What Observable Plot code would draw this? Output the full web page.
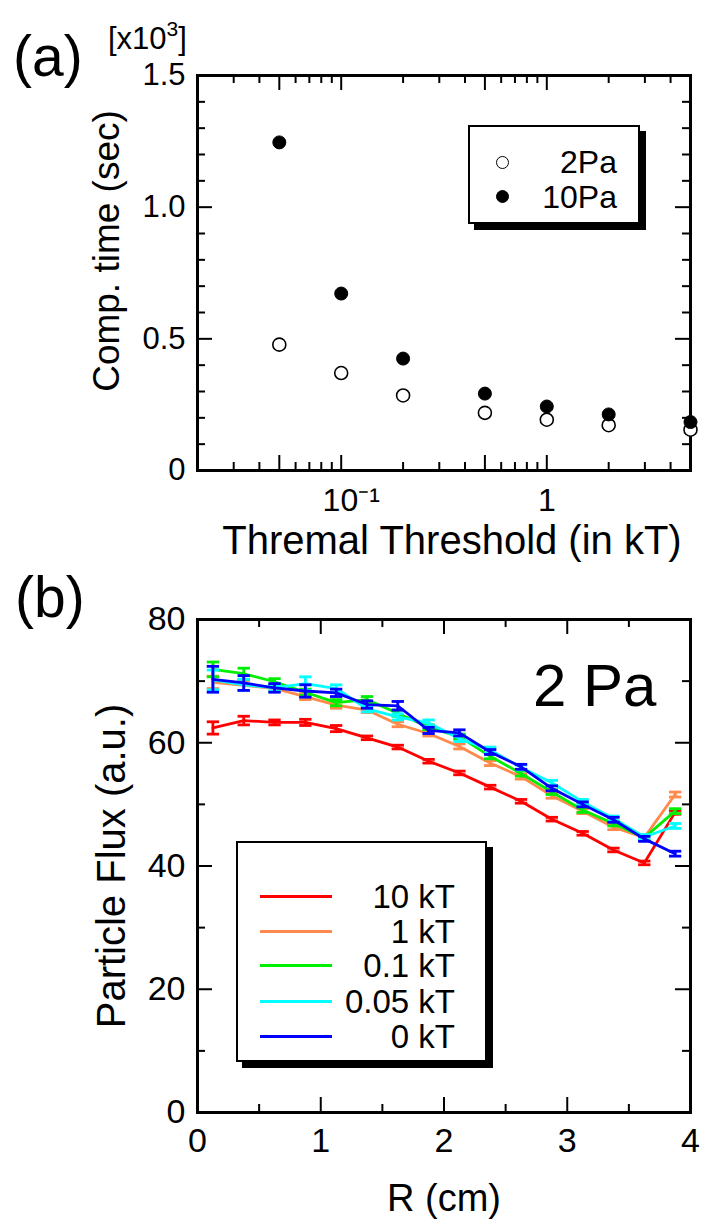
<!DOCTYPE html>
<html>
<head>
<meta charset="utf-8">
<script src="https://cdn.jsdelivr.net/npm/d3@7"></script>
<script src="https://cdn.jsdelivr.net/npm/@observablehq/plot@0.6"></script>
<style>
  body { margin: 0; background: #fff; }
  #root { position: relative; width: 701px; height: 1220px; overflow: hidden; background: #fff;
          font-family: "Liberation Sans", Arial, Helvetica, sans-serif; color: #000; }
  .abs { position: absolute; line-height: 1; white-space: nowrap; }
  #pa { position: absolute; left: 0; top: 0; }
  #pb { position: absolute; left: 0; top: 600px; }
  .legend { position: absolute; background: #fff; border: 2px solid #000; box-shadow: 6px 6px 0 #000; box-sizing: border-box; }
  .mk { position: absolute; width: 13px; height: 13px; border-radius: 50%; box-sizing: border-box; border: 1.6px solid #000; }
  .ln { position: absolute; height: 3px; width: 72px; left: 260px; }
</style>
</head>
<body>
<div id="root">
  <div id="pa"></div>
  <div id="pb"></div>
</div>
<script>
// ---------- Panel (a) data ----------
const thresholdsKT = [0.05, 0.1, 0.2, 0.5, 1, 2, 5];
const time2Pa  = [0.478, 0.370, 0.285, 0.219, 0.193, 0.172, 0.155];   // x10^3 sec
const time10Pa = [1.246, 0.672, 0.425, 0.292, 0.243, 0.213, 0.184];   // x10^3 sec
const aXTickLabelPow = [0.1];
const aXTickLabelOne = [1];
const aXMajorTicks = [0.05, 0.1, 0.5, 1];
const aXMinorTicks = [0.03, 0.04, 0.06, 0.07, 0.08, 0.09, 0.2, 0.3, 0.4, 0.6, 0.7, 0.8, 0.9, 2, 3, 4];
const aYTickLabels = [0, 0.5, 1.0, 1.5];
const aYMajorTicks = [0.5, 1.0];
const aYMinorTicks = [0.1, 0.2, 0.3, 0.4, 0.6, 0.7, 0.8, 0.9, 1.1, 1.2, 1.3, 1.4];

// ---------- Panel (b) data ----------
const radiusCm = [0.125, 0.375, 0.625, 0.875, 1.125, 1.375, 1.625, 1.875, 2.125, 2.375, 2.625, 2.875, 3.125, 3.375, 3.625, 3.875];
const seriesNames  = ["10 kT", "1 kT", "0.1 kT", "0.05 kT", "0 kT"];
const seriesColors = ["#ff0000", "#ff8a4c", "#00ee00", "#00ffff", "#0000ff"];
const flux10kT  = [62.4, 63.6, 63.3, 63.3, 62.3, 60.8, 59.3, 57.0, 55.1, 52.8, 50.5, 47.6, 45.3, 42.6, 40.5, 48.7];
const flux1kT   = [69.8, 69.3, 68.8, 67.5, 66.1, 65.3, 63.0, 61.5, 59.4, 56.7, 54.5, 51.4, 48.9, 46.3, 44.6, 51.6];
const flux01kT  = [71.9, 71.2, 69.9, 68.2, 66.5, 67.0, 64.8, 62.5, 61.0, 57.8, 55.0, 52.0, 49.1, 46.9, 44.6, 48.9];
const flux005kT = [70.2, 69.4, 68.9, 69.6, 68.8, 65.5, 64.2, 63.2, 60.7, 58.8, 56.0, 53.5, 50.4, 47.7, 44.7, 46.5];
const flux0kT   = [70.3, 69.7, 68.9, 68.4, 68.1, 66.2, 66.0, 62.0, 61.6, 58.5, 56.1, 52.6, 50.0, 47.5, 44.4, 42.0];
const err10kT  = [1.0, 0.7, 0.4, 0.5, 0.5, 0.3, 0.3, 0.3, 0.3, 0.3, 0.3, 0.3, 0.3, 0.3, 0.3, 0.3];
const err1kT   = [1.0, 0.8, 0.5, 0.5, 0.5, 0.4, 0.4, 0.4, 0.4, 0.4, 0.4, 0.4, 0.4, 0.4, 0.4, 0.4];
const err01kT  = [1.2, 0.9, 0.5, 0.5, 0.5, 0.5, 0.5, 0.4, 0.4, 0.4, 0.4, 0.4, 0.4, 0.4, 0.4, 0.4];
const err005kT = [1.6, 0.9, 0.5, 1.1, 0.6, 0.5, 0.5, 0.5, 0.5, 0.5, 0.4, 0.4, 0.4, 0.4, 0.4, 0.4];
const err0kT   = [2.1, 1.2, 0.7, 1.0, 0.6, 0.6, 0.7, 0.5, 0.5, 0.4, 0.4, 0.4, 0.4, 0.4, 0.4, 0.4];
const bXTickLabels = [0, 1, 2, 3, 4];
const bXMajorTicks = [1, 2, 3];
const bXMinorTicks = [0.5, 1.5, 2.5, 3.5];
const bYTickLabels = [0, 20, 40, 60, 80];
const bYMajorTicks = [20, 40, 60];
const bYMinorTicks = [10, 30, 50, 70];

const FONT = '"Liberation Sans", Arial, Helvetica, sans-serif';

// ---------- Panel (a) ----------
const aW = 493, aH = 395;
const rows2 = thresholdsKT.map((x, i) => ({x, y: time2Pa[i]}));
const rows10 = thresholdsKT.map((x, i) => ({x, y: time10Pa[i]}));
const plotA = Plot.plot({
  width: 701, height: 600,
  marginLeft: 197, marginRight: 11, marginTop: 75, marginBottom: 130,
  x: {type: "log", domain: [0.02, 5], label: null},
  y: {domain: [0, 1.5], label: null},
  style: {fontFamily: FONT, color: "#000", background: "transparent", overflow: "visible"},
  marks: [
    Plot.tickX(aXMajorTicks, {x: d => d, insetTop: aH - 15, stroke: "#000", strokeWidth: 2}),
    Plot.tickX(aXMajorTicks, {x: d => d, insetBottom: aH - 15, stroke: "#000", strokeWidth: 2}),
    Plot.tickX(aXMinorTicks, {x: d => d, insetTop: aH - 8, stroke: "#000", strokeWidth: 2}),
    Plot.tickX(aXMinorTicks, {x: d => d, insetBottom: aH - 8, stroke: "#000", strokeWidth: 2}),
    Plot.tickY(aYMajorTicks, {y: d => d, insetRight: aW - 15, stroke: "#000", strokeWidth: 2}),
    Plot.tickY(aYMajorTicks, {y: d => d, insetLeft: aW - 15, stroke: "#000", strokeWidth: 2}),
    Plot.tickY(aYMinorTicks, {y: d => d, insetRight: aW - 8, stroke: "#000", strokeWidth: 2}),
    Plot.tickY(aYMinorTicks, {y: d => d, insetLeft: aW - 8, stroke: "#000", strokeWidth: 2}),
    Plot.frame({stroke: "#000", strokeWidth: 3}),
    Plot.axisX({ticks: aXTickLabelPow, tickSize: 0, tickPadding: 18, fontSize: 32, label: null, dx: 10,
                tickFormat: () => "10\u207B\u00B9"}),
    Plot.axisX({ticks: aXTickLabelOne, tickSize: 0, tickPadding: 18, fontSize: 32, label: null,
                tickFormat: d => String(d)}),
    Plot.axisY({ticks: aYTickLabels, tickSize: 0, tickPadding: 12, fontSize: 31, label: null,
                tickFormat: d => d === 0 ? "0" : d.toFixed(1)}),
    Plot.text(["Thremal Threshold (in kT)"], {frameAnchor: "bottom", textAnchor: "middle", lineAnchor: "middle",
                dy: 71, dx: 8, fontSize: 40, fill: "#000"}),
    Plot.text(["Comp. time (sec)"], {frameAnchor: "left", textAnchor: "middle", lineAnchor: "middle",
                dx: -90, dy: -22, rotate: -90, fontSize: 37, fill: "#000"}),
    Plot.dot(rows2, {x: "x", y: "y", r: 6.5, fill: "#fff", stroke: "#000", strokeWidth: 1.6}),
    Plot.dot(rows10, {x: "x", y: "y", r: 6.5, fill: "#000", stroke: "#000", strokeWidth: 1})
  ]
});
document.getElementById("pa").appendChild(plotA);

// ---------- Panel (b) ----------
const bW = 493, bH = 493;
const fluxSeries = [flux10kT, flux1kT, flux01kT, flux005kT, flux0kT];
const errSeries = [err10kT, err1kT, err01kT, err005kT, err0kT];
const capHalf = 0.05;
const seriesMarks = [];
fluxSeries.forEach((vals, s) => {
  const rows = radiusCm.map((R, i) => ({R, v: vals[i], e: errSeries[s][i]}));
  const c = seriesColors[s];
  seriesMarks.push(
    Plot.ruleX(rows, {x: "R", y1: d => d.v - d.e, y2: d => d.v + d.e, stroke: c, strokeWidth: 2.8}),
    Plot.link(rows, {x1: d => d.R - capHalf, x2: d => d.R + capHalf, y1: d => d.v + d.e, y2: d => d.v + d.e, stroke: c, strokeWidth: 2.8}),
    Plot.link(rows, {x1: d => d.R - capHalf, x2: d => d.R + capHalf, y1: d => d.v - d.e, y2: d => d.v - d.e, stroke: c, strokeWidth: 2.8}),
    Plot.line(rows, {x: "R", y: "v", stroke: c, strokeWidth: 2.8})
  );
});
const plotB = Plot.plot({
  width: 701, height: 620,
  marginLeft: 197, marginRight: 11, marginTop: 19, marginBottom: 108,
  x: {domain: [0, 4], label: null},
  y: {domain: [0, 80], label: null},
  style: {fontFamily: FONT, color: "#000", background: "transparent", overflow: "visible"},
  marks: [
    Plot.tickX(bXMajorTicks, {x: d => d, insetTop: bH - 15, stroke: "#000", strokeWidth: 2}),
    Plot.tickX(bXMajorTicks, {x: d => d, insetBottom: bH - 15, stroke: "#000", strokeWidth: 2}),
    Plot.tickX(bXMinorTicks, {x: d => d, insetTop: bH - 8, stroke: "#000", strokeWidth: 2}),
    Plot.tickX(bXMinorTicks, {x: d => d, insetBottom: bH - 8, stroke: "#000", strokeWidth: 2}),
    Plot.tickY(bYMajorTicks, {y: d => d, insetRight: bW - 15, stroke: "#000", strokeWidth: 2}),
    Plot.tickY(bYMajorTicks, {y: d => d, insetLeft: bW - 15, stroke: "#000", strokeWidth: 2}),
    Plot.tickY(bYMinorTicks, {y: d => d, insetRight: bW - 8, stroke: "#000", strokeWidth: 2}),
    Plot.tickY(bYMinorTicks, {y: d => d, insetLeft: bW - 8, stroke: "#000", strokeWidth: 2}),
    ...seriesMarks,
    Plot.frame({stroke: "#000", strokeWidth: 3}),
    Plot.axisX({ticks: bXTickLabels, tickSize: 0, tickPadding: 15, fontSize: 34, label: null, tickFormat: d => String(d)}),
    Plot.axisY({ticks: bYTickLabels, tickSize: 0, tickPadding: 12, fontSize: 34, label: null, tickFormat: d => String(d)}),
    Plot.text(["R (cm)"], {frameAnchor: "bottom", textAnchor: "middle", lineAnchor: "middle",
                dy: 86, fontSize: 38, fill: "#000"}),
    Plot.text(["Particle Flux (a.u.)"], {frameAnchor: "left", textAnchor: "middle", lineAnchor: "middle",
                dx: -85, rotate: -90, fontSize: 40, fill: "#000"})
  ]
});
document.getElementById("pb").appendChild(plotB);

// ---------- Annotations & legends (HTML) ----------
const root = document.getElementById("root");
function addText(html, css) {
  const d = document.createElement("div");
  d.className = "abs";
  d.innerHTML = html;
  Object.assign(d.style, css);
  root.appendChild(d);
  return d;
}
addText("(a)", {left: "13px", top: "28px", fontSize: "57px"});
addText("(b)", {left: "15px", top: "569px", fontSize: "57px"});
addText('[x10<span style="font-size:21px;position:relative;top:-13px">3</span>]', {left: "108px", top: "23px", fontSize: "31px"});
addText("2 Pa", {left: "533px", top: "656px", fontSize: "60px"});

// legend (a)
const legA = document.createElement("div");
legA.className = "legend";
Object.assign(legA.style, {left: "468px", top: "125px", width: "172px", height: "99px"});
root.appendChild(legA);
const legAEntries = [
  {label: "2Pa", fill: "#fff", cy: 162, base: 173},
  {label: "10Pa", fill: "#000", cy: 196, base: 208}
];
legAEntries.forEach(e => {
  const m = document.createElement("div");
  m.className = "mk";
  Object.assign(m.style, {left: (502 - 6.5) + "px", top: (e.cy - 6.5) + "px", background: e.fill});
  root.appendChild(m);
  addText(e.label, {right: (701 - 617) + "px", top: (e.base - 0.8465 * 32) + "px", fontSize: "32px"});
});

// legend (b)
const legB = document.createElement("div");
legB.className = "legend";
Object.assign(legB.style, {left: "236px", top: "841px", width: "251px", height: "221px"});
root.appendChild(legB);
const legBLineY = [896, 931, 965, 1001, 1036];
seriesNames.forEach((name, i) => {
  const l = document.createElement("div");
  l.className = "ln";
  Object.assign(l.style, {top: (legBLineY[i] - 1.5) + "px", background: seriesColors[i]});
  root.appendChild(l);
  addText(name, {right: (701 - 455) + "px", top: (legBLineY[i] + 12 - 0.8465 * 33) + "px", fontSize: "33px"});
});
</script>
</body>
</html>
